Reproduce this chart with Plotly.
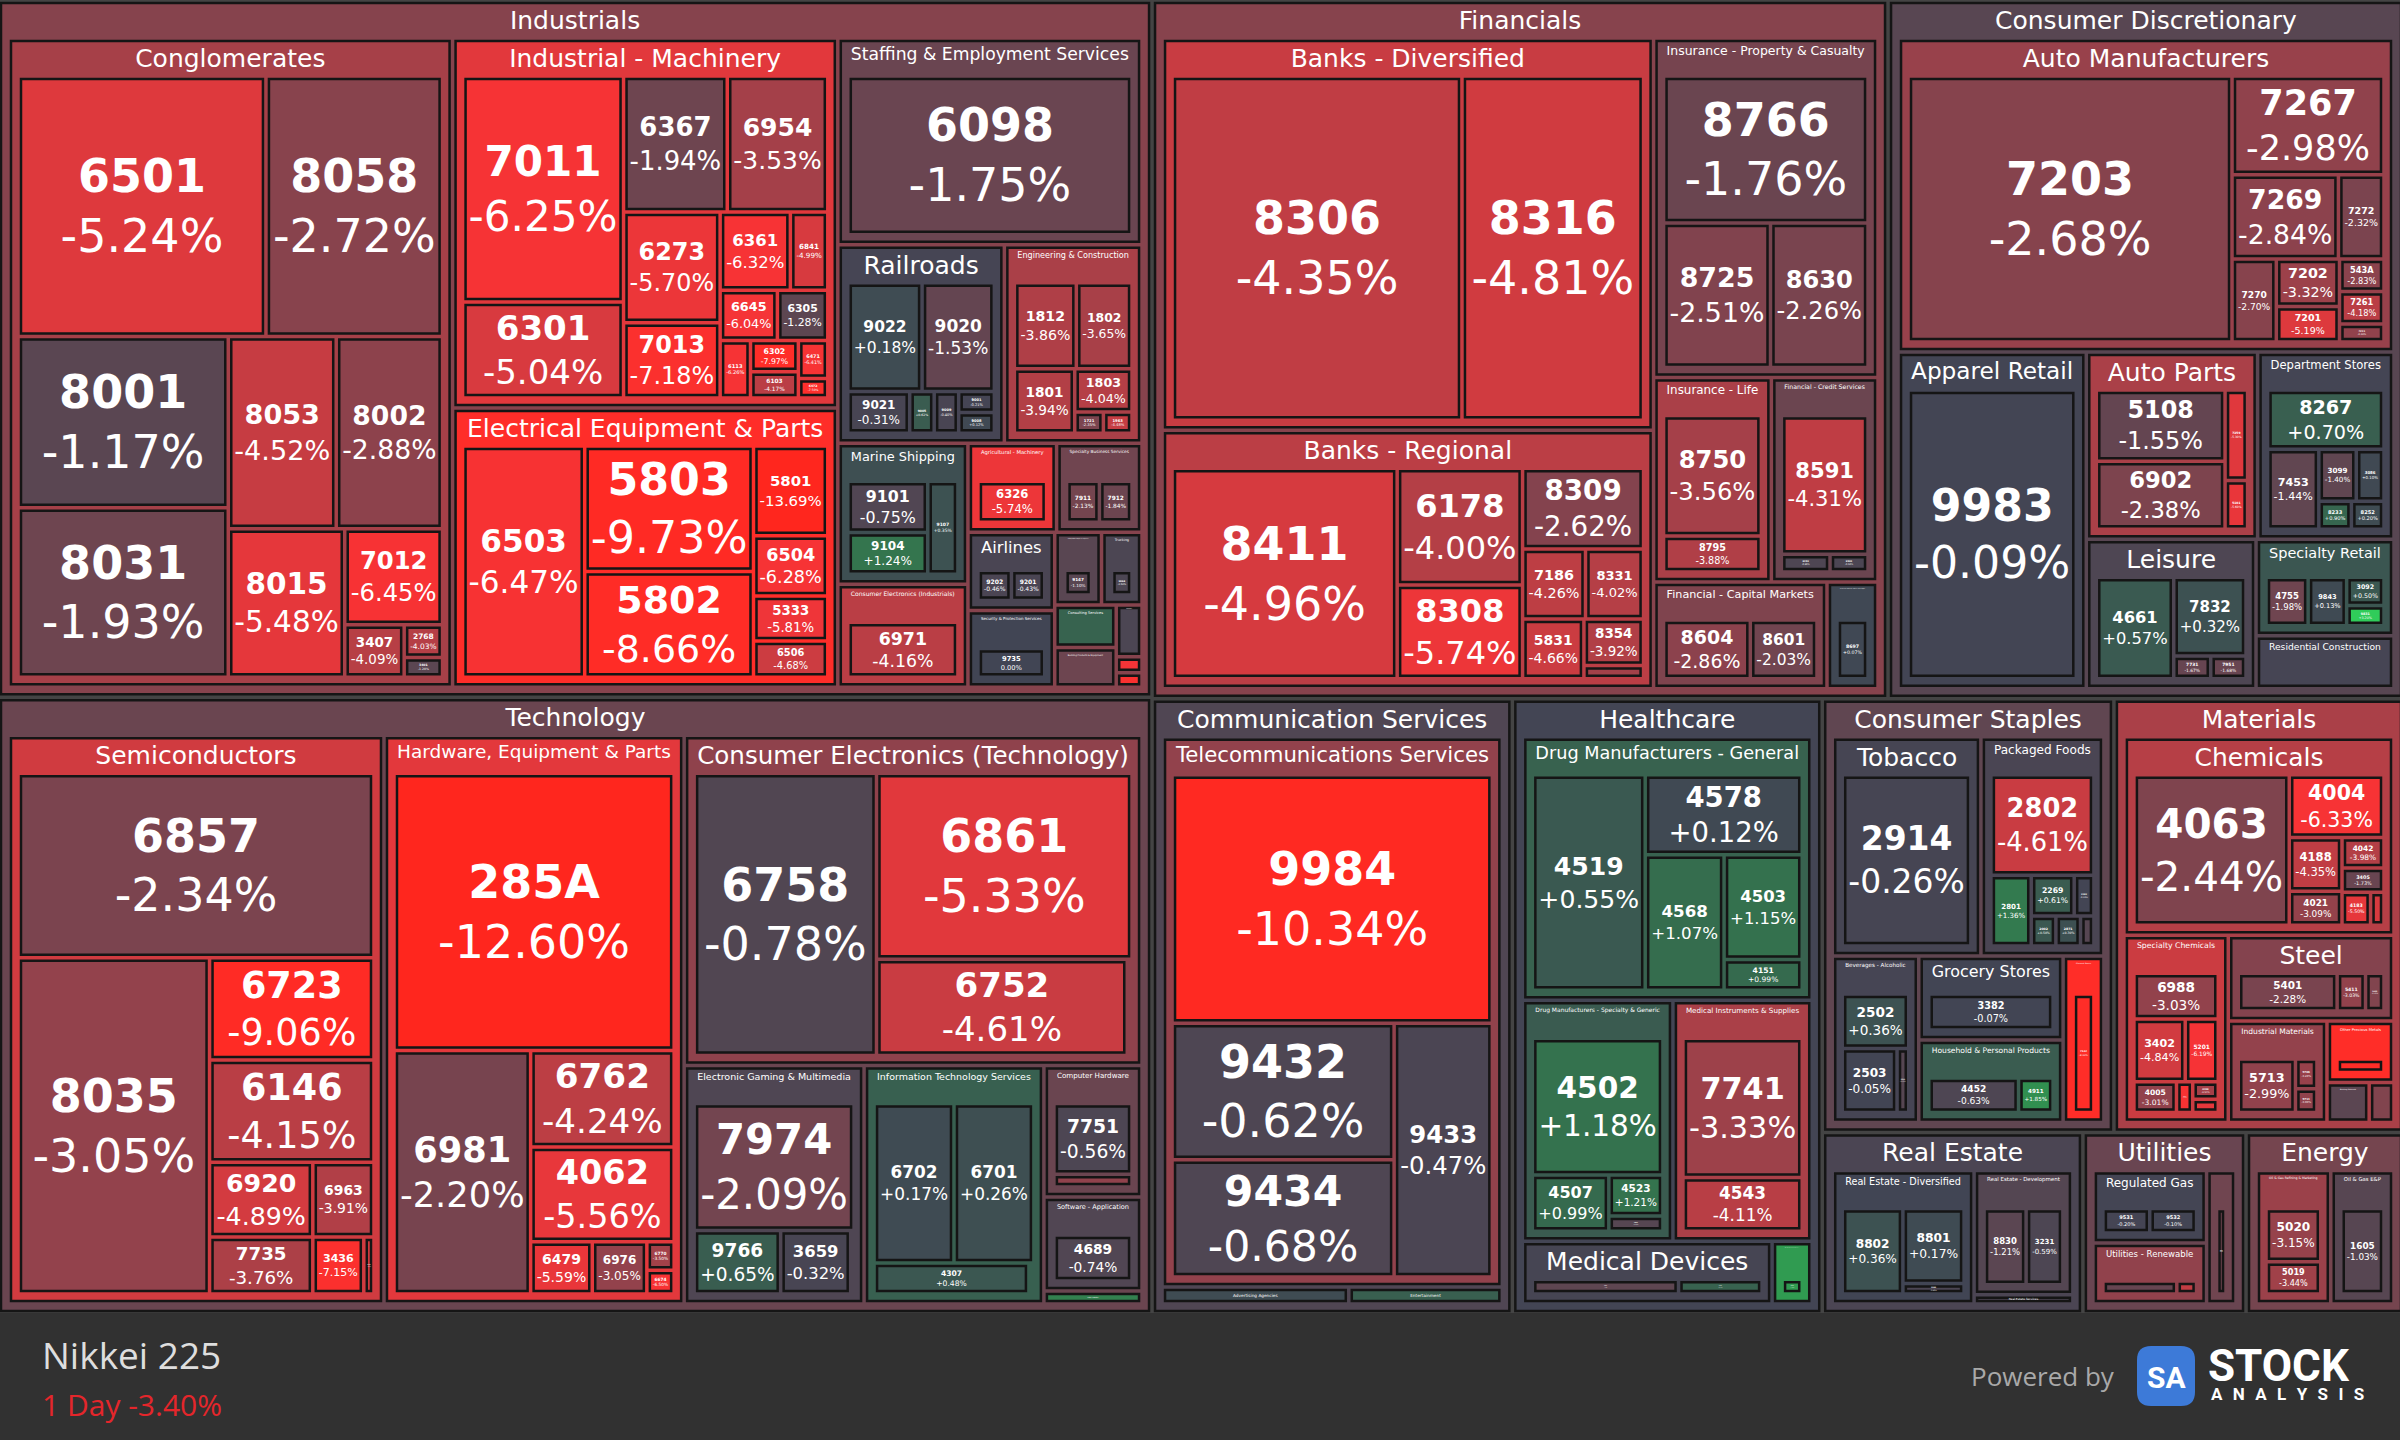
import plotly.graph_objects as go

# sectors of the Nikkei 225 map
sectors = [
    "Industrials", "Financials", "Consumer Discretionary", "Technology",
    "Communication Services", "Healthcare", "Consumer Staples", "Materials",
    "Real Estate", "Utilities", "Energy",
]

industries = [
    "Conglomerates", "Industrial - Machinery", "Electrical Equipment & Parts",
    "Staffing & Employment Services", "Railroads", "Engineering & Construction",
    "Marine Shipping", "Consumer Electronics (Industrials)", "Agricultural - Machinery",
    "Specialty Business Services", "Airlines", "Security & Protection Services",
    "Integrated Freight & Logistics", "Trucking", "Consulting Services",
    "Building Products & Equipment", "Metal Fabrication", "Pollution & Treatment Controls",
    "Tools & Accessories",
    "Banks - Diversified", "Banks - Regional", "Insurance - Property & Casualty",
    "Insurance - Life", "Financial - Credit Services", "Financial - Capital Markets",
    "Financial Data & Stock Exchanges",
    "Auto Manufacturers", "Apparel Retail", "Auto Parts", "Department Stores",
    "Leisure", "Specialty Retail", "Residential Construction",
    "Semiconductors", "Hardware, Equipment & Parts", "Consumer Electronics (Technology)",
    "Electronic Gaming & Multimedia", "Information Technology Services",
    "Computer Hardware", "Software - Application", "Software - Infrastructure",
    "Telecommunications Services", "Advertising Agencies", "Entertainment",
    "Drug Manufacturers - General", "Drug Manufacturers - Specialty & Generic",
    "Medical Instruments & Supplies", "Medical Devices", "Health Information Services",
    "Tobacco", "Packaged Foods", "Beverages - Alcoholic", "Grocery Stores",
    "Household & Personal Products", "Discount Stores",
    "Chemicals", "Specialty Chemicals", "Steel", "Industrial Materials",
    "Other Precious Metals", "Building Materials", "Paper & Paper Products",
    "Real Estate - Diversified", "Real Estate - Development", "Real Estate Services",
    "Regulated Gas", "Utilities - Renewable", "Utilities - Regulated Electric",
    "Oil & Gas Refining & Marketing", "Oil & Gas E&P",
]

industry_sector = (
    ["Industrials"] * 19
    + ["Financials"] * 7
    + ["Consumer Discretionary"] * 7
    + ["Technology"] * 8
    + ["Communication Services"] * 3
    + ["Healthcare"] * 5
    + ["Consumer Staples"] * 6
    + ["Materials"] * 7
    + ["Real Estate"] * 3
    + ["Utilities"] * 3
    + ["Energy"] * 2
)

# stocks: ticker, industry, market cap (relative), 1 day change %
tickers = [
    "6501", "8058", "8001", "8031", "8053", "8002", "8015", "7012", "3407", "2768", "3401",
    "7011", "6301", "6367", "6954", "6273", "7013", "6361", "6841", "6645", "6305", "6113",
    "6302", "6103", "6471", "6472",
    "6503", "5803", "5802", "5801", "6504", "5333", "6506",
    "6098",
    "9022", "9020", "9021", "9005", "9009", "9001", "9008",
    "1812", "1802", "1801", "1803", "1721", "1963",
    "9101", "9104", "9107",
    "6971",
    "6326",
    "7911", "7912",
    "9202", "9201",
    "9735",
    "9147",
    "9064",
    "6532",
    "5938", "5332",
    "5631",
    "6370",
    "6586",
    "8306", "8316",
    "8411", "6178", "8308", "8309", "7186", "8331", "5831", "8354", "8304",
    "8766", "8725", "8630",
    "8750", "8795",
    "8591", "8253", "8593",
    "8604", "8601",
    "8697",
    "7203", "7267", "7269", "7272", "7270", "7202", "7201", "543A", "7261", "7211",
    "9983",
    "5108", "6902", "7259", "5101",
    "8267", "7453", "3099", "3086", "8233", "8252",
    "4661", "7832", "7731", "7951",
    "4755", "9843", "3092", "9831",
    "1928", "1925",
    "6857", "8035", "6723", "6146", "6920", "7735", "6963", "3436", "6526",
    "285A", "6981", "6762", "4062", "6479", "6976", "6770", "6674",
    "6758", "6861", "6752", "6753",
    "7974", "9766", "3659", "4751",
    "6702", "6701", "4307", "9719",
    "7751", "6724",
    "4689",
    "4704",
    "9984", "9432", "9434", "9433",
    "4324",
    "9602",
    "4519", "4578", "4568", "4503", "4151",
    "4502", "4507", "4523", "4506",
    "7741", "4543",
    "4901", "7733",
    "2413",
    "2914",
    "2802", "2801", "2269", "2282", "2002", "2871", "1332",
    "2502", "2503", "2501",
    "3382",
    "4452", "4911",
    "7532",
    "4063", "4004", "4188", "4021", "4042", "3405", "4183", "4061",
    "6988", "3402", "5201", "4005", "4631", "4208", "4043",
    "5401", "5411", "5406",
    "5713", "5706", "5711",
    "5707",
    "5233",
    "3861",
    "8802", "8801", "3289",
    "8830", "3231",
    "8804",
    "9531", "9532",
    "9501", "9513",
    "9503",
    "5020", "5019",
    "1605",
]

ticker_industry = (
    ["Conglomerates"] * 11
    + ["Industrial - Machinery"] * 15
    + ["Electrical Equipment & Parts"] * 7
    + ["Staffing & Employment Services"]
    + ["Railroads"] * 7
    + ["Engineering & Construction"] * 6
    + ["Marine Shipping"] * 3
    + ["Consumer Electronics (Industrials)"]
    + ["Agricultural - Machinery"]
    + ["Specialty Business Services"] * 2
    + ["Airlines"] * 2
    + ["Security & Protection Services"]
    + ["Integrated Freight & Logistics"]
    + ["Trucking"]
    + ["Consulting Services"]
    + ["Building Products & Equipment"] * 2
    + ["Metal Fabrication"]
    + ["Pollution & Treatment Controls"]
    + ["Tools & Accessories"]
    + ["Banks - Diversified"] * 2
    + ["Banks - Regional"] * 9
    + ["Insurance - Property & Casualty"] * 3
    + ["Insurance - Life"] * 2
    + ["Financial - Credit Services"] * 3
    + ["Financial - Capital Markets"] * 2
    + ["Financial Data & Stock Exchanges"]
    + ["Auto Manufacturers"] * 10
    + ["Apparel Retail"]
    + ["Auto Parts"] * 4
    + ["Department Stores"] * 6
    + ["Leisure"] * 4
    + ["Specialty Retail"] * 4
    + ["Residential Construction"] * 2
    + ["Semiconductors"] * 9
    + ["Hardware, Equipment & Parts"] * 8
    + ["Consumer Electronics (Technology)"] * 4
    + ["Electronic Gaming & Multimedia"] * 4
    + ["Information Technology Services"] * 4
    + ["Computer Hardware"] * 2
    + ["Software - Application"]
    + ["Software - Infrastructure"]
    + ["Telecommunications Services"] * 4
    + ["Advertising Agencies"]
    + ["Entertainment"]
    + ["Drug Manufacturers - General"] * 5
    + ["Drug Manufacturers - Specialty & Generic"] * 4
    + ["Medical Instruments & Supplies"] * 2
    + ["Medical Devices"] * 2
    + ["Health Information Services"]
    + ["Tobacco"]
    + ["Packaged Foods"] * 7
    + ["Beverages - Alcoholic"] * 3
    + ["Grocery Stores"]
    + ["Household & Personal Products"] * 2
    + ["Discount Stores"]
    + ["Chemicals"] * 8
    + ["Specialty Chemicals"] * 7
    + ["Steel"] * 3
    + ["Industrial Materials"] * 3
    + ["Other Precious Metals"]
    + ["Building Materials"]
    + ["Paper & Paper Products"]
    + ["Real Estate - Diversified"] * 3
    + ["Real Estate - Development"] * 2
    + ["Real Estate Services"]
    + ["Regulated Gas"] * 2
    + ["Utilities - Renewable"] * 2
    + ["Utilities - Regulated Electric"]
    + ["Oil & Gas Refining & Marketing"] * 2
    + ["Oil & Gas E&P"]
)

market_cap = [
    333.7, 237.7, 186.1, 184.3, 107.3, 105.7, 89.4, 48.6, 16.1, 6.5, 3.9,
    201.5, 85.7, 78.2, 75.8, 59.2, 40.3, 30.4, 16.2, 15.9, 14.0, 9.7,
    8.3, 7.0, 6.2, 3.2,
    164.4, 123.2, 104.0, 38.8, 26.1, 19.4, 15.7,
    287.5,
    55.4, 53.9, 17.7, 7.0, 7.0, 5.1, 5.1,
    37.6, 33.8, 27.5, 17.5, 4.3, 4.3,
    33.5, 27.4, 23.0,
    61.2,
    36.0,
    17.4, 17.3,
    15.6, 15.5,
    30.4,
    15.6,
    13.5,
    11.9,
    6.0, 5.2,
    6.1,
    1.9,
    1.7,
    547.4, 342.9,
    280.0, 86.5, 69.5, 57.7, 26.0, 24.0, 21.7, 16.4, 4.7,
    177.5, 91.1, 83.1,
    85.7, 25.5,
    89.3, 6.4, 5.0,
    48.4, 37.2,
    25.2,
    495.2, 86.2, 51.6, 22.1, 21.1, 17.2, 12.9, 8.3, 8.3, 4.6,
    296.3,
    65.2, 62.3, 14.5, 7.8,
    50.9, 30.1, 14.3, 10.6, 6.7, 6.7,
    61.4, 44.4, 6.6, 6.3,
    22.2, 20.3, 11.5, 8.2,
    27.1, 7.2,
    349.5, 343.0, 89.6, 89.6, 41.0, 31.4, 24.3, 15.5, 3.1,
    419.4, 179.7, 74.8, 73.5, 17.4, 15.4, 4.2, 3.5,
    290.7, 268.5, 136.3, 2.6,
    132.0, 35.7, 28.9, 1.4,
    82.9, 82.9, 31.1, 1.0,
    50.4, 9.1,
    42.6,
    5.9,
    444.8, 169.5, 145.6, 139.4,
    15.2,
    12.5,
    154.8, 80.0, 68.0, 52.1, 15.3,
    124.7, 30.1, 15.5, 5.8,
    117.6, 45.3,
    48.3, 27.6,
    12.2,
    164.5,
    79.9, 22.0, 13.5, 6.2, 5.7, 5.7, 3.1,
    33.5, 32.3, 6.9,
    61.2,
    43.4, 16.7,
    34.3,
    168.2, 42.8, 20.4, 12.9, 9.2, 7.3, 6.8, 3.2,
    32.4, 27.0, 17.4, 11.0, 4.2, 3.8, 2.8,
    48.7, 14.0, 9.1,
    36.7, 7.7, 6.1,
    20.8,
    8.5,
    5.0,
    58.1, 51.4, 7.2,
    40.3, 35.3,
    5.7,
    26.7, 26.7,
    35.5, 9.5,
    25.5,
    40.6, 24.4,
    55.0,
]

change_pct = [
    -5.24, -2.72, -1.17, -1.93, -4.52, -2.88, -5.48, -6.45, -4.09, -4.03, -1.20,
    -6.25, -5.04, -1.94, -3.53, -5.70, -7.18, -6.32, -4.99, -6.04, -1.28, -6.26,
    -7.97, -4.17, -6.41, -7.50,
    -6.47, -9.73, -8.66, -13.69, -6.28, -5.81, -4.68,
    -1.75,
    0.18, -1.53, -0.31, 0.62, -0.40, -0.21, 0.12,
    -3.86, -3.65, -3.94, -4.04, -2.35, -4.48,
    -0.75, 1.24, 0.35,
    -4.16,
    -5.74,
    -2.13, -1.84,
    -0.46, -0.43,
    0.00,
    -1.10,
    -0.50,
    0.80,
    -1.80, -2.00,
    -0.50,
    -6.00,
    -7.00,
    -4.35, -4.81,
    -4.96, -4.00, -5.74, -2.62, -4.26, -4.02, -4.66, -3.92, -3.50,
    -1.76, -2.51, -2.26,
    -3.56, -3.88,
    -4.31, -0.60, -0.50,
    -2.86, -2.03,
    0.07,
    -2.68, -2.98, -2.84, -2.32, -2.70, -3.32, -5.19, -2.83, -4.18, -3.00,
    -0.09,
    -1.55, -2.38, -5.30, -5.60,
    0.70, -1.44, -1.40, 0.10, 0.90, 0.20,
    0.57, 0.32, -1.67, -1.68,
    -1.98, 0.13, 0.50, 3.20,
    -0.30, -0.20,
    -2.34, -3.05, -9.06, -4.15, -4.89, -3.76, -3.91, -7.15, -5.00,
    -12.60, -2.20, -4.24, -5.56, -5.59, -3.05, -3.50, -6.50,
    -0.78, -5.33, -4.61, -1.00,
    -2.09, 0.65, -0.32, -1.00,
    0.17, 0.26, 0.48, 2.00,
    -0.56, -3.00,
    -0.74,
    1.50,
    -10.34, -0.62, -0.68, -0.47,
    0.20,
    0.70,
    0.55, 0.12, 1.07, 1.15, 0.99,
    1.18, 0.99, 1.21, -1.00,
    -3.33, -4.11,
    -1.30, 0.78,
    2.10,
    -0.26,
    -4.61, 1.36, 0.61, -0.10, 0.50, 0.30, -1.00,
    0.36, -0.05, -1.00,
    -0.07,
    -0.63, 1.85,
    -8.00,
    -2.44, -6.33, -4.35, -3.09, -3.98, -1.73, -5.50, -5.00,
    -3.03, -4.84, -6.19, -3.01, -6.50, -3.54, -5.50,
    -2.28, -3.03, -2.50,
    -2.99, -3.20, -3.00,
    -8.00,
    -1.20,
    -2.50,
    0.36, 0.17, -0.49,
    -1.21, -0.59,
    -0.50,
    -0.20, -0.10,
    -1.61, -4.39,
    -2.00,
    -3.15, -3.44,
    -1.03,
]

index_name = "Nikkei 225"
index_change = "1 Day -3.40%"

# group colours: plain mean of the children
ind_change = []
for ind in industries:
    vals = [c for c, i in zip(change_pct, ticker_industry) if i == ind]
    ind_change.append(sum(vals) / len(vals))
sec_change = []
for sec in sectors:
    vals = [c for c, s in zip(ind_change, industry_sector) if s == sec]
    sec_change.append(sum(vals) / len(vals))


def fmt(c):
    return "0.00%" if c == 0 else f"{c:+.2f}%"


n_groups = len(sectors) + len(industries)
ids = sectors + industries + tickers
parents = [""] * len(sectors) + industry_sector + ticker_industry
values = [0] * n_groups + market_cap
colors = sec_change + ind_change + change_pct
custom = [""] * n_groups + [fmt(c) for c in change_pct]
templates = ["%{label}"] * n_groups + ["<b>%{label}</b><br>%{customdata}"] * len(tickers)
sizes = [25] * n_groups + [46] * len(tickers)

scale = [
    [0.0, "rgb(255,38,30)"], [0.25, "rgb(255,45,40)"], [0.375, "rgb(245,52,55)"],
    [0.4375, "rgb(215,58,63)"], [0.5, "rgb(180,63,70)"], [0.5625, "rgb(145,66,76)"],
    [0.625, "rgb(112,69,80)"], [0.6875, "rgb(86,70,82)"], [0.75, "rgb(65,69,84)"],
    [0.8125, "rgb(53,106,78)"], [0.875, "rgb(48,150,80)"], [0.9375, "rgb(48,204,90)"],
    [1.0, "rgb(48,204,90)"],
]

# the hidden common root keeps its padding, so the figure is drawn a bit larger
# than the window and shifted up/left by (most of) that padding
PT, PL, PR, PB = 38, 10, 10, 10
VW, VH = 2400, 1440           # visible window
W, H = VW + PL + PR, VH + PT + PB
OFF_X, OFF_Y = PL - 1, PT - 3
map_bottom = 1311             # bottom of the map in window pixels


def px(x, y):
    return (x + OFF_X) / W, 1 - (y + OFF_Y) / H


fig = go.Figure(go.Treemap(
    ids=ids,
    labels=ids,
    parents=parents,
    values=values,
    branchvalues="remainder",
    sort=True,
    tiling=dict(packing="squarify", squarifyratio=1, pad=6),
    marker=dict(
        colors=colors, colorscale=scale, cmin=-12, cmax=4, showscale=False,
        line=dict(color="#151515", width=2.5),
        pad=dict(t=PT, l=PL, r=PR, b=PB),
    ),
    customdata=custom,
    texttemplate=templates,
    textposition="middle center",
    textfont=dict(family="DejaVu Sans", color="white", size=sizes),
    pathbar=dict(visible=False),
    hoverinfo="skip",
    domain=dict(x=[0, 1], y=[1 - (map_bottom + OFF_Y + PB) / H, 1]),
))

# footer band
fig.add_shape(type="rect", xref="paper", yref="paper", x0=0, x1=1,
              y0=0, y1=px(0, map_bottom + 2)[1], fillcolor="#313131", line_width=0)

# logo badge (rounded)
x0, x1, y0, y1, r = 2137, 2195, 1346, 1406, 14
pts = []
for (a, b) in [(x0 + r, y0), (x1 - r, y0), (x1, y0), (x1, y0 + r), (x1, y1 - r), (x1, y1),
               (x1 - r, y1), (x0 + r, y1), (x0, y1), (x0, y1 - r), (x0, y0 + r), (x0, y0)]:
    pts.append("%.6f %.6f" % px(a, b))
path = (f"M {pts[0]} L {pts[1]} Q {pts[2]} {pts[3]} L {pts[4]} Q {pts[5]} {pts[6]} "
        f"L {pts[7]} Q {pts[8]} {pts[9]} L {pts[10]} Q {pts[11]} {pts[0]} Z")
fig.add_shape(type="path", xref="paper", yref="paper", path=path,
              fillcolor="#3d7ad8", line_width=0)

gap = "\u2002\u200a"
notes = [
    (40, 1354, index_name, 37, "#dedede", "left", "Open Sans"),
    (40, 1404, index_change, 30, "#e4262b", "left", "Open Sans"),
    (2117, 1376, "Powered by", 26, "#a9a9a9", "right", "Open Sans"),
    (2166, 1377, "<b>SA</b>", 30, "white", "center", "Roboto"),
    (2206, 1366, "<b>STOCK</b>", 44, "white", "left", "Roboto"),
    (2209, 1394, "<b>" + gap.join("ANALYSIS") + "</b>", 17, "white", "left", "Roboto"),
]
for x, y, t, s, c, anc, fam in notes:
    ax, ay = px(x, y)
    fig.add_annotation(x=ax, y=ay, xref="paper", yref="paper", text=t, showarrow=False,
                       xanchor=anc, yanchor="middle",
                       font=dict(size=s, color=c, family=fam))

fig.update_layout(
    width=W, height=H,
    margin=dict(l=0, r=0, t=0, b=0),
    paper_bgcolor="#262626",
)

shift = (
    "document.body.style.margin='0';document.body.style.overflow='hidden';"
    "var d=document.querySelector('.plotly-graph-div');"
    f"d.style.position='absolute';d.style.left='-{OFF_X}px';d.style.top='-{OFF_Y}px';"
)
fig.write_html("out.html", config={"displayModeBar": False}, post_script=shift)
